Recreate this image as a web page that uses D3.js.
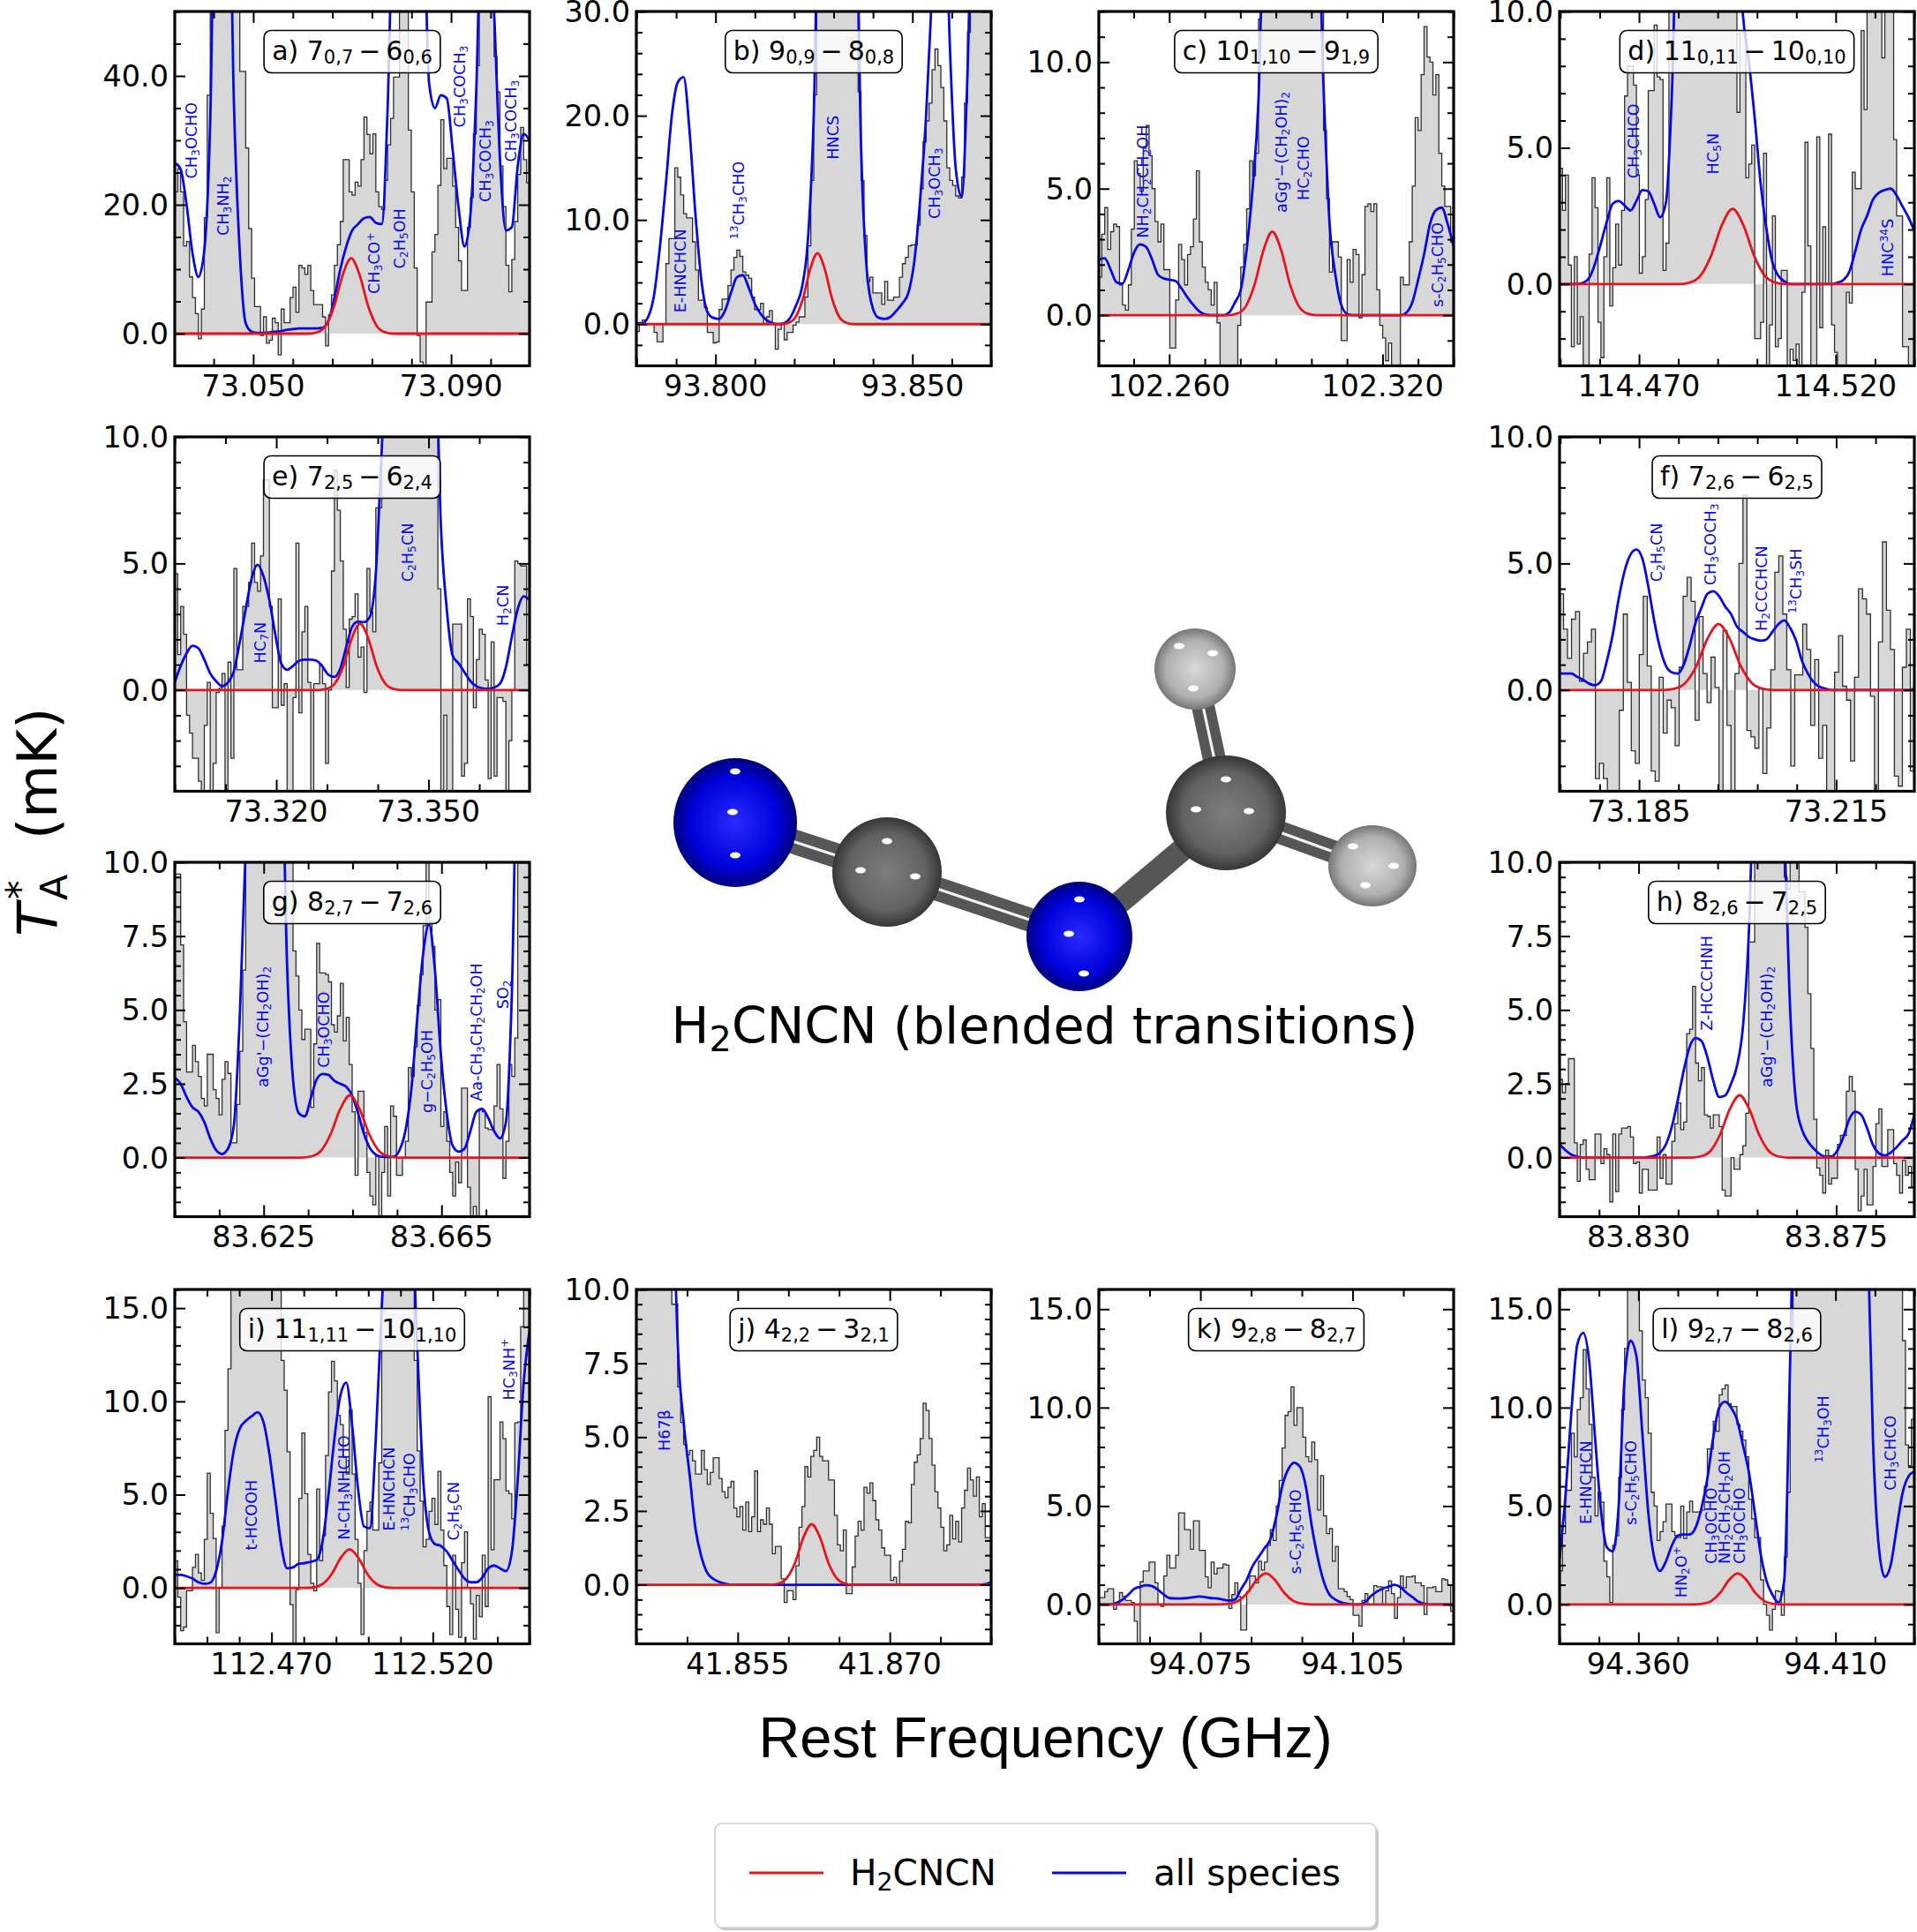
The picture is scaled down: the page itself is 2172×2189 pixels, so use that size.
<!DOCTYPE html>
<html><head><meta charset="utf-8">
<script src="https://cdn.jsdelivr.net/npm/d3@7"></script>
<style>html,body{margin:0;padding:0;background:#fff}svg{display:block}</style></head><body>
<svg id="c" width="2172" height="2189"></svg>
<script>
// ---- observed spectra (mK), one value per uniform channel across the panel ----
const obsA=[22,25.6,22,13.6,14.3,8.8,5.6,3.1,-.8,3.8,18,37,60,60,60,60,60,60,60,60,60,60,40.7,40.7,28.8,16.3,8.6,4.2,4.2,-.3,2.6,-1.5,-1,2.4,1.7,-3.3,3.8,1.7,1.7,5.6,7.2,3.3,10.6,10.2,9.2,10.6,6.7,4.5,4.5,4.5,2.6,-1.9,2.9,6,10.6,13.8,17.4,27,27,22,21.5,23.5,22.9,27,33.6,30.9,27.9,31,22,19.7,19.3,23.8,29.3,33.4,39.8,39.8,55,55,55,31.6,22,10.2,-.3,-4.4,-6,4.9,4.9,12.7,15.4,23,33.2,25.6,27.2,27.2,22.9,16.5,11.3,6.7,6.7,16.5,21.1,31,41.6,60,60,60,60,60,43,37.5,26,19.7,10.6,6.5,11.5,17.4,24.7,32,27,23.4];
const obsB=[-.7,0,.4,0,0,0,-.8,-1.7,-1.7,0,5.8,8.2,8.2,15,14.1,12.4,10.6,10.2,10.2,7.9,5.2,2.3,2.3,1.6,-.8,-.8,-1.8,-1.7,1.4,2.4,2.4,3.7,5.2,6.4,7.1,6.5,5,4.7,4.4,2.6,1.4,1.4,2,0,.7,1.3,0,-2.4,-.5,0,-1.5,-.8,-.8,-.1,.2,.7,.7,2.6,7.5,13.8,22,40,40,40,40,40,40,40,40,40,40,40,40,40,40,22.3,13.8,8.5,4.1,4.5,3,3,3,1.9,4.1,2.3,2.3,2.6,2.6,4.5,5.8,6.4,7.5,7.6,7.6,9.5,13,17.5,19.5,21.2,24.4,26.4,24.8,22.7,19.5,15,13.8,13.3,12.3,12.1,14.1,21.2,28,40,40,40,40,40,40,40];
const obsC=[1.5,3.2,4.25,2.6,3.3,3.6,3.5,1.2,.4,.2,1.2,3.4,6.1,5.6,4.9,6.6,7.5,6.3,5,3.7,2.9,3.6,1.8,1.8,-1.3,-1.3,.6,2.8,2.2,1.2,2.4,2.7,3.8,5.7,2.9,1.9,1.3,1,.4,1.3,-.3,-2.3,-2.3,-2.3,-2.3,-2.3,-2.3,-.4,1.9,2.8,4.2,6.1,5.5,6.4,11.7,15,15,15,15,15,15,15,15,15,15,15,15,15,15,15,15,15,15,15,15,15,7.3,4.6,1.7,2.9,2.9,2.3,-1,-1,2.2,1.3,2.6,2.4,-.1,1.6,4.3,4.4,4.1,4.4,1,-.4,-.9,-1.8,-1.1,-2.3,-2.3,-2.3,1.5,1.2,1.2,2.9,5.1,7.8,7.3,9.5,11.4,10.2,10,8.7,9.5,6.4,5.1,4.3,4.3,2.9];
const obsD=[4.25,2.7,4,.7,-2.3,1,-2.2,-1.2,-3.3,-3.3,1.1,3.9,2.8,-1.4,-2.7,1,3.9,-.8,.6,2.2,.7,2.7,6.9,8,8,7.3,4,.4,1,3.1,7.1,7.1,9.5,7.6,7.5,.5,1.5,12,12,16,16,16,16,16,16,16,16,16,16,16,16,16,16,16,16,16,16,16,16,16,6.3,9.3,9.3,3.9,4.4,5.1,-2,-2,-1.4,4.8,-3.3,-1.5,2.5,-2.3,-2,.5,.5,-3.3,-2.4,-2.8,-2.2,-3.3,-.3,5.2,1.4,-3.3,-3.3,5.4,-1.6,2.1,0,5.5,-1.5,-2.5,-3.3,-3.3,-3.3,-.3,-.7,4.1,3.5,3.5,9.3,6.4,12,12,12,12,12,8.3,12,12,12,5.3,2.5,2.5,-2.3,-2.3,-3.3,-3.3];
const obsE=[4.6,1.4,3.3,2.2,-1,-1.7,-2.7,-2.7,-3.6,-4.5,-1.4,.3,-4.5,-2.9,-.1,.07,.65,-4.5,1.1,-2.7,4.8,.8,.8,3.3,3.3,4.25,5.8,4.25,3.9,5.3,8.3,8.3,3.3,-.7,-.7,3.6,-.6,.25,-4.5,-4.5,-.3,5.8,-.9,2.3,3.3,.3,-4.5,.25,.25,1,.25,-2.9,0,4.7,8.7,7.1,5.1,2.4,.1,2.8,2.9,3.8,1.3,1.7,-.1,4.8,3.1,2.3,7.2,7.2,12,12,12,12,12,12,12,12,12,12,12,12,12,12,12,12,12,12,12,4,-4.5,-1,-4.5,-4.5,2.6,2.6,2.6,-3.4,-2.9,3.6,2.9,-.7,1.2,2.4,2.2,.4,-3.5,1.9,-3.4,-.3,-.3,-.45,-4.5,-2,0,5.1,5,4.9,4.9,1];
const obsF=[3.8,2.4,1.25,2.8,3.1,.35,1.45,1.9,2.4,-3.5,-2.9,-3.5,-4.5,-4.5,-4.5,-.8,3,.3,-2.4,-2.9,1.4,3.7,.95,-3.2,-3.6,.5,-1.7,-.4,-.7,-2.2,.9,3.7,4.45,3.5,-1.2,2.9,.65,-.5,1.3,.1,-4.5,2.35,-1.4,-4.5,.65,5,7.7,-1.6,-1.85,-2.3,.07,-3.3,-1.5,.8,4.65,5.3,3,.8,-3,.6,.6,2.6,1.6,-1.4,1.2,-2.7,-1.4,-4.5,-4.5,.7,2.15,.15,-.4,-2.8,.5,4,3.6,3,-.25,-4.5,1.9,5.85,3.15,1.6,-3.4,-3.8,.9,2.4,-3.2];
const obsG=[9.6,9.6,7.2,4.6,2.9,2.9,3.8,3.25,2.75,2,1.75,3.5,3.5,2.3,2,1.45,2.65,3.25,2.85,.5,.5,1.8,3.6,6.35,12,12,12,12,12,12,12,12,12,12,12,12,12,12,12,12,7,6.15,5,4,4.35,4.35,1.7,3.85,7.25,6.25,6.25,6.2,5.95,4.5,4.25,4.8,5.9,3.95,4.75,3.15,1.55,-.6,2.25,2.25,.85,-.5,-1.3,-1.6,.05,-2.2,-.5,1.05,-1.3,1.75,1.4,-.6,-.6,0,.55,3.05,2.75,3.75,5.15,6.2,7.85,12,8,7.15,5,5.35,1.05,1.55,.55,-.5,-1.3,-.15,-.85,2.35,2.35,-1,-2.2,-1.65,-2.2,1.65,1.55,1,.95,.95,1.75,3.15,1.65,-.7,.55,3.15,2.75,4.05,12,12,12,12];
const obsH=[2.65,2.2,2.5,3.35,3.35,.5,-.8,.45,.6,-.4,-.75,-.75,.8,.8,-.2,.3,.1,-1.5,.8,-1.15,.8,1,1,1.05,.7,-.2,-.15,-1.2,-.4,-.4,-1.1,-1.1,-1.1,.7,-.7,.1,-.9,-.9,.55,1.15,1.85,.95,1.2,4.2,4.35,5.8,3.2,2.6,3.05,1.45,1.4,1,1.45,1.45,1.05,-1.1,-1.3,-1.3,0,-.4,-.4,.1,.4,1.5,7.3,7.3,12,12,12,12,12,12,12,12,12,12,9.5,9.1,12,12,12,9,9,7.8,5.55,3.7,1.3,-.35,-.6,-1.2,.25,-.9,-.7,-.7,.45,.75,.75,2.25,2.75,2.25,-.4,-1.8,-1.3,-.4,-1.6,-1.6,-.3,1.15,1.65,-.3,-.3,.95,.95,-.2,-.6,-1.2,-.1,-.6,-.3,-1];
const obsI=[1.45,-.5,-2.3,-2.1,-.15,-.15,1.1,1.8,.8,.4,2.6,6.15,4,2.65,-2.4,0,3.3,8.45,11.75,20,20,20,20,20,20,20,20,20,20,20,20,20,20,20,20,20,12.2,10.6,7.3,-.9,-3.5,-.1,4.8,8.3,5.05,1.8,.25,-.15,5.3,1.45,2.8,7.1,10.5,12.15,11.1,9.25,8.75,7,6.1,9.55,6.1,2.6,.25,-2.5,2,4.1,4.6,3.1,3.1,6.7,20,20,20,20,20,20,20,20,20,20,20,12.2,7.35,4.65,2.2,2.6,4.1,4.8,3.4,6.25,3.1,1.2,-1,-2.5,1.75,-1.15,-2.65,1.35,3,0,-.85,-2.75,-.4,-1.55,1.75,-1,10.25,2.05,5.8,5.8,8.9,8,5.2,5.05,3.7,8.85,8.9,14,16,16];
const obsJ=[15,15,15,15,15,15,15,15,15,15,15,15,9.5,9.5,6.7,5.5,4.75,4.4,4.55,4.2,3.75,3.75,4.55,3.9,3.4,3.8,4.3,4.3,3.6,3.15,2.95,3.3,3.5,2.6,2.3,2.65,1.85,2.8,1.8,2.3,3.85,1.8,2.2,2.05,2.6,2.05,1.05,1.3,1.3,.2,-.6,-.2,-.2,-.5,.65,1.95,2.65,4,3.65,4.35,4.55,5,4.35,4.2,4.2,3.55,3.55,2.35,1.35,1.15,1.85,-.3,-.3,.6,1.65,2.15,1.85,3.3,3.1,3.45,2.85,2.2,1.85,1.25,1,1,.15,.25,0,.8,1.2,2.15,2.1,3.4,4.15,4.4,4.95,6.15,5.9,4.95,4.05,3.15,2.6,1.95,1.15,1.35,2.35,1.55,2.15,1.45,2.6,3.2,3.95,3.55,3,3.65,2.3,2.75,1.6,1.6];
const obsK=[.35,.35,.65,.8,.8,-.25,0,.6,.4,.2,.2,.1,-.85,-2.2,1.15,1.7,1.7,2.15,2.15,1.1,0,-.1,1.45,2.5,1.85,1.85,2.5,4.65,4.65,3.8,3.8,2.8,4.25,4.25,2.75,2.75,1.4,.85,2.15,1.55,1.85,1.85,2.05,2,-.2,.5,1.1,.4,-1.3,-1.3,.65,1.45,1.45,1.1,2.2,1.75,2.15,3,3.8,3.25,5,6.3,7.95,9.6,9.8,11.05,9.1,10,10,8.5,7.5,7.25,8.25,7.35,4.8,6.55,4.5,3.6,3.85,2.2,2.95,.8,.8,.65,.4,.25,-.55,-.55,-1.1,.2,.55,0,0,.95,.9,.9,0,.7,1.2,.55,-.7,.35,1.45,.85,1.4,1.4,1.45,1.1,1.1,.95,-.5,.85,.85,.9,.65,.65,1.3,1.25,1,-.35];
const obsL=[1.7,3.6,5.8,5.8,8.7,7.5,9.9,10.5,12.95,10.95,9.15,6.45,4.5,5.7,5.2,2.2,1.4,.1,3,3.5,6.45,9.9,13,20,20,20,16,13.9,11.4,10.5,8.7,5.7,5,3.25,3.7,4.2,5.1,5.1,3.7,3.5,3.4,5,3.35,4.7,5.25,4.7,4.7,4.7,4.8,6,7.9,7.9,9.3,8.8,10.65,10.95,11.15,10.2,10.05,10.05,9.15,8.8,8.35,7.5,5.35,4.35,3.4,3.4,1.25,0,-.55,-1.3,-.25,.7,.65,-.55,2.4,5.7,14,30,30,30,30,30,30,30,30,30,30,30,30,30,30,30,30,30,30,30,30,30,30,30,30,30,30,30,30,30,30,30,30,30,30,30,30,30,13.4,8.1,7.05,9.4];

// ---- "all species" model (mK), sampled uniformly across each panel ----
const modelA=[26.5,25.5,20,12.5,8.8,13,33,80,80,80,36,12.5,1.6,.3,.1,.1,.2,.3,.4,.6,.7,.8,.8,.8,.8,.9,2,5.5,10,13.5,16,17,17.9,18.1,17.2,17,35,70,80,80,80,80,70,39,35,37,36.5,28.5,19.5,13.5,18.5,38,70,70,50,27,16,16.5,26,31,30];
const modelB=[.1,.1,.7,2.8,7.5,13.5,20,23.2,23.7,18.5,10.5,4.2,1.2,.6,.5,1.3,3,4.5,4.7,3.5,2,1,.4,.1,0,.1,.6,1.8,3.5,8,20,45,45,45,45,45,45,45,17,5,1.5,.6,.5,.7,1.3,2,3,6,12,20,32,45,45,27,15,12.2,24,45,45,45,45];
const modelC=[2.2,2.25,1.8,1.3,1.25,1.8,2.5,2.8,2.7,2.2,1.6,1.45,1.4,1.35,1.05,.7,.4,.15,.03,0,0,0,.1,.5,1,2.6,5,8.5,16,16,16,16,16,16,16,16,16,16,9,3.7,1.6,.4,.05,0,0,0,0,0,0,0,0,0,.1,.5,1.4,2.4,3.6,4.15,4.25,3.6,2.7];
const modelD=[0,0,0,0,.05,.22,.75,1.5,2.3,2.95,3.05,2.88,2.7,3.05,3.45,3.4,2.95,2.45,3,7,14,14,14,14,14,14,14,14,14,14,14,9.9,8.2,6.1,3.7,2,.8,.3,.1,0,0,0,0,0,0,0,0,.05,.15,.45,1.2,2,2.5,3.1,3.35,3.45,3.5,3.25,2.85,2.45,1.95];
const modelE=[.3,.95,1.45,1.75,1.65,1.2,.65,.35,.15,.3,.75,1.9,3.2,4.4,4.95,4.5,3.55,2.2,1.05,.8,.95,1.15,1.2,1.2,1.15,.92,.6,.52,.85,1.7,2.5,2.7,2.68,2.9,4.6,9.5,14,14,14,14,14,14,14,14,14,6.5,3.2,1.35,1.05,.7,.35,.15,.07,.05,.1,.25,.9,2.1,3.2,3.7,3.55];
const modelF=[.65,.65,.65,.52,.4,.25,.19,.35,1.15,2.2,3.6,4.7,5.35,5.55,5.2,4.1,2.75,1.65,.95,.7,.65,1,1.75,2.65,3.25,3.8,3.9,3.7,3.3,3,2.5,2.3,2.1,2,1.95,2,2.3,2.6,2.75,2.45,1.95,1.15,.65,.3,.12,.05,0,0,0,0,0,0,0,0,0,0,0,0,0,0,.05];
const modelG=[2.7,2.5,2.05,1.7,1.55,1.2,.65,.25,.12,.3,1.1,4.8,10.5,14,14,14,14,14,14,6.5,2.65,1.5,1.4,2,2.65,2.83,2.8,2.6,2.5,2.4,2.1,1.5,.8,.32,.1,.03,.02,.03,.25,.9,2.3,4.7,6.9,7.9,6.35,3.5,1.5,.4,.2,.3,.9,1.55,1.65,1.35,.9,.65,1.2,5.5,14,14,14];
const modelH=[.45,.25,.1,.03,0,0,0,0,0,0,0,0,0,0,0,.02,.06,.16,.45,1.05,1.95,2.95,3.75,4.05,3.95,3.4,2.6,2.05,2.1,2.5,3.1,4.4,7.55,13,13,13,13,13,11,5,1.85,.95,.55,.3,.12,.03,.04,.25,.7,1.3,1.55,1.45,1,.43,.15,.07,.17,.35,.58,.8,1.45];
const modelI=[.7,.7,.62,.5,.3,.22,.28,.9,2.5,5.2,7.4,8.55,8.95,9.2,9.42,8.9,7.2,4.8,2.3,1.05,1.1,1.3,1.33,1.4,1.5,2.5,5,8,10.3,11,8.7,5.3,3.3,3.2,8,15,20,20,20,20,20,13,5.9,3,2.35,2.25,1.95,1.45,.95,.5,.3,.3,.55,1.05,1.2,1.05,.9,1.9,5.8,11,13.8];
const modelJ=[30,30,30,30,30,30,16,8.2,5.5,3.75,1.9,.95,.4,.2,.1,.04,0,0,0,0,0,0,0,0,0,0,0,0,0,0,0,0,0,0,0,0,0,0,0,0,0,0,0,0,0,0,0,0,0,0,0,0,0,0,0,0,0,0,0,.02,.08];
const modelK=[0,0,0,.08,.25,.5,.8,.9,.98,.93,.75,.5,.32,.3,.3,.33,.37,.4,.37,.32,.3,.25,.2,.25,.75,1.25,1.95,2.4,2.85,3.3,4.45,6,6.85,7.2,7,6,4,2.4,1.2,.5,.25,.1,.03,0,0,.1,.42,.65,.8,.9,1,.88,.6,.38,.15,.03,0,0,0,0,0];
const modelL=[2.3,5.5,9.8,13.2,13.8,12.4,8.5,4.8,2.9,2.7,5,11.5,13.4,12.6,8.7,4.7,2.4,1.7,2.2,3,3.5,3.55,3.55,3.9,4.9,6.4,8.5,10,10.3,10,9.4,8.1,6.75,4.7,2.6,1.2,.5,.1,1.25,12.4,25,25,25,25,25,25,25,25,25,25,25,25,20,8.4,2.9,1.4,2,3.85,5.65,6.5,6.75];

// ---- H2CNCN line profiles: value at (center + step*FWHM) ----
const redSteps=[-1.5,-1.2,-.9,-.6,-.3,0,.3,.6,.9,1.2,1.5];
const redA=[0,.22,1.24,4.31,9.11,11.7,9.11,4.31,1.24,.22,0];
const redB=[0,.13,.72,2.5,5.3,6.8,5.3,2.5,.72,.13,0];
const redC=[0,.06,.35,1.21,2.57,3.3,2.57,1.21,.35,.06,0];
const redD=[0,.05,.29,1.02,2.15,2.76,2.15,1.02,.29,.05,0];
const redE=[0,.05,.28,.96,2.04,2.62,2.04,.96,.28,.05,0];
const redF=[0,.05,.28,.96,2.03,2.6,2.03,.96,.28,.05,0];
const redG=[0,.04,.22,.78,1.64,2.11,1.64,.78,.22,.04,0];
const redH=[0,.04,.22,.78,1.64,2.11,1.64,.78,.22,.04,0];
const redI=[0,.04,.22,.76,1.61,2.07,1.61,.76,.22,.04,0];
const redJ=[0,.04,.22,.75,1.6,2.05,1.6,.75,.22,.04,0];
const redK=[0,.03,.17,.58,1.23,1.58,1.23,.58,.17,.03,0];
const redL=[0,.03,.17,.58,1.23,1.58,1.23,.58,.17,.03,0];

// ---- line identifications: [text, frequency, T at start of text] ----
const E_="E-HNCHCN", SP="s-C_{2}H_{5}CHO", AGG="aGg'\u2212(CH_{2}OH)_{2}", MF="CH_{3}OCHO", ACE="CH_{3}COCH_{3}", EC="C_{2}H_{5}CN";
const labelsA=[[MF,73.0374,24.05],["CH_{3}NH_{2}",73.0439,15.2],["CH_{3}CO^{+}",73.0745,6.15],["C_{2}H_{5}OH",73.0796,10.07],[ACE,73.0918,32],[ACE,73.097,20.4],[ACE,73.1021,26.65]];
const labelsB=[[E_,93.7911,1.1],["^{13}CH_{3}CHO",93.8058,8.14],["HNCS",93.8298,15.8],["CH_{3}OCH_{3}",93.8557,10.1]];
const labelsC=[["NH_{2}CH_{2}CH_{2}OH",102.2526,3.05],[AGG,102.2915,4.05],["HC_{2}CHO",102.2977,4.54],[SP,102.3355,.32]];
const labelsD=[["CH_{3}CHCO",114.4685,3.87],["HC_{5}N",114.4887,4.03],["HNC^{34}S",114.5333,.28]];
const labelsE=[["HC_{7}N",73.3168,1.06],[EC,73.3459,4.27],["H_{2}CN",73.3646,2.53]];
const labelsF=[[EC,73.1877,4.27],[ACE,73.1959,4.13],["H_{2}CCCHCN",73.2037,2.33],["^{13}CH_{3}SH",73.2089,3.03]];
const labelsG=[[AGG,83.6249,2.38],[MF,83.6386,3.04],["g\u2212C_{2}H_{5}OH",83.6617,1.51],["Aa-CH_{3}CH_{2}CH_{2}OH",83.6728,1.91],["SO_{2}",83.6788,5.03]];
const labelsH=[["Z-HCCCHNH",83.8456,4.3],[AGG,83.8591,2.38]];
const labelsI=[["t-HCOOH",112.4637,2.02],["N-CH_{3}NHCHO",112.4924,2.57],[E_,112.5065,3.06],["^{13}CH_{3}CHO",112.5127,3.06],[EC,112.5264,2.54],["HC_{3}NH^{+}",112.5436,10.06]];
const labelsJ=[["H67\u03B2",41.8478,4.53]];
const labelsK=[[SP,94.0937,1.54]];
const labelsL=[[E_,94.3466,4.07],[SP,94.3582,4.03],["HN_{2}O^{+}",94.3708,.34],[MF,94.3785,2.06],["NH_{2}CH_{2}CH_{2}OH",94.3819,2.06],[MF,94.3856,2.06],["^{13}CH_{3}OH",94.4069,7.2],["CH_{3}CHCO",94.424,5.79]];

// ---- transition names ----
const transitions=["a) 7_{0,7}\u2009\u2212\u20096_{0,6}","b) 9_{0,9}\u2009\u2212\u20098_{0,8}","c) 10_{1,10}\u2009\u2212\u20099_{1,9}","d) 11_{0,11}\u2009\u2212\u200910_{0,10}","e) 7_{2,5}\u2009\u2212\u20096_{2,4}","f) 7_{2,6}\u2009\u2212\u20096_{2,5}","g) 8_{2,7}\u2009\u2212\u20097_{2,6}","h) 8_{2,6}\u2009\u2212\u20097_{2,5}","i) 11_{1,11}\u2009\u2212\u200910_{1,10}","j) 4_{2,2}\u2009\u2212\u20093_{2,1}","k) 9_{2,8}\u2009\u2212\u20098_{2,7}","l) 9_{2,7}\u2009\u2212\u20098_{2,6}"];

// ---- axes: xDomain, xTicks, xMinorStep, yDomain, yTicks, yMinorStep, red centre, red FWHM ----
const xDomains=[[73.03413,73.10587],[93.7799,93.87],[102.2402,102.34],[114.4498,114.54],[73.3,73.3699],[73.1729,73.2269],[83.605,83.6848],[83.812,83.8928],[112.44,112.55],[41.845,41.88],[94.055,94.1249],[94.34,94.43]];
const xTicks=[[73.05,73.09],[93.8,93.85],[102.26,102.32],[114.47,114.52],[73.32,73.35],[73.185,73.215],[83.625,83.665],[83.83,83.875],[112.47,112.52],[41.855,41.87],[94.075,94.105],[94.36,94.41]];
const xMinor=[.008,.01,.01,.01,.01,.006,.01,.009,.01,.005,.01,.01];
const yDomains=[[-5,50],[-4,30],[-2,12],[-3,10],[-4,10],[-4,10],[-2,10],[-2,10],[-3,16],[-2,10],[-2,16],[-2,16]];
const yTicks=[[0,20,40],[0,10,20,30],[0,5,10],[0,5,10],[0,5,10],[0,5,10],[0,2.5,5,7.5,10],[0,2.5,5,7.5,10],[0,5,10,15],[0,2.5,5,7.5,10],[0,5,10,15],[0,5,10,15]];
const yMinor=[5,2,1,1,1,1,.5,.5,1,.5,1,1];
const redCenters=[73.0698,93.8259,102.289,114.4938,73.3365,73.1971,83.6444,83.853,112.4942,41.8623,94.0879,94.3852];
const redFwhm=[.0057,.0061,.0083,.0092,.0054,.0056,.0073,.0074,.0091,.00273,.0061,.0075];
const xAxisTitle="Rest Frequency (GHz)", moleculeTitle="H_{2}CNCN (blended transitions)";
const legendNames=["H_{2}CNCN","all species"];

const obsAll=[obsA,obsB,obsC,obsD,obsE,obsF,obsG,obsH,obsI,obsJ,obsK,obsL];
const modelAll=[modelA,modelB,modelC,modelD,modelE,modelF,modelG,modelH,modelI,modelJ,modelK,modelL];
const redAll=[redA,redB,redC,redD,redE,redF,redG,redH,redI,redJ,redK,redL];
const labelAll=[labelsA,labelsB,labelsC,labelsD,labelsE,labelsF,labelsG,labelsH,labelsI,labelsJ,labelsK,labelsL];

// ---- layout ----
const cols=[198,721,1245,1767], rows=[13,495,977,1461], pw=402, ph=401.5;
const cells=[[0,0],[1,0],[2,0],[3,0],[0,1],[3,1],[0,2],[3,2],[0,3],[1,3],[2,3],[3,3]];
const DJ="'DejaVu Sans'", BLUE="#0808e6", RED="#e8141c";
const svg=d3.select("#c");
const defs=svg.append("defs");

function rich(t,str,subDy=.17,supDy=.38){
  const re=/([_^])\{([^}]*)\}|([^_^]+)/g; let m,cur=0; const fs=parseFloat(t.attr("font-size"));
  while((m=re.exec(str))){
    const s=t.append("tspan");
    let target=0;
    if(m[1]){target=m[1]==="_"?subDy*fs:-supDy*fs;s.attr("font-size",fs*.7).text(m[2]);}
    else s.text(m[3]);
    s.attr("dy",target-cur); cur=target;
  }
}
function minors(anchor,step,dom){
  const out=[];
  for(let v=anchor;v>=dom[0]-1e-9;v-=step)out.push(v);
  for(let v=anchor+step;v<=dom[1]+1e-9;v+=step)out.push(v);
  return out;
}

d3.range(12).forEach(i=>{
  const [cx,ry]=cells[i], L=cols[cx], T=rows[ry];
  const g=svg.append("g").attr("transform",`translate(${L},${T})`);
  const x=d3.scaleLinear().domain(xDomains[i]).range([0,pw]);
  const y=d3.scaleLinear().domain(yDomains[i]).range([ph,0]);
  const clipId="clip"+i;
  defs.append("clipPath").attr("id",clipId).append("rect").attr("width",pw).attr("height",ph);
  const plot=g.append("g").attr("clip-path",`url(#${clipId})`);
  const [x0,x1]=xDomains[i];
  const obs=obsAll[i], bw=(x1-x0)/obs.length;
  const steps=obs.map((v,k)=>[x0+k*bw,v]); steps.push([x1,obs[obs.length-1]]);
  plot.append("path").attr("d",d3.area().curve(d3.curveStepAfter).x(d=>x(d[0])).y0(y(0)).y1(d=>y(d[1]))(steps)).attr("fill","#d7d7d7");
  plot.append("path").attr("d",d3.line().curve(d3.curveStepAfter).x(d=>x(d[0])).y(d=>y(d[1]))(steps)).attr("fill","none").attr("stroke","#2e2e2e").attr("stroke-width",1.3);
  const mod=modelAll[i], mw=(x1-x0)/(mod.length-1);
  const ln=d3.line().curve(d3.curveMonotoneX).x(d=>x(d[0])).y(d=>y(d[1]));
  plot.append("path").attr("d",ln(mod.map((v,k)=>[x0+k*mw,v]))).attr("fill","none").attr("stroke",BLUE).attr("stroke-width",2.8);
  const rp=[[x0,0],...redSteps.map((s,k)=>[redCenters[i]+s*redFwhm[i],redAll[i][k]]),[x1,0]];
  plot.append("path").attr("d",ln(rp)).attr("fill","none").attr("stroke",RED).attr("stroke-width",2.8);

  // ticks
  const noLab=()=>"";
  const mk=(axis,vals,len,fmt)=>axis.tickValues(vals).tickSize(len).tickFormat(fmt);
  const xm=minors(xTicks[i][0],xMinor[i],xDomains[i]).filter(v=>!xTicks[i].some(t=>Math.abs(t-v)<1e-6));
  const ym=minors(yTicks[i][0],yMinor[i],yDomains[i]).filter(v=>!yTicks[i].some(t=>Math.abs(t-v)<1e-6));
  const ax=[
    [d3.axisBottom(x),xm,-8,noLab,`translate(0,${ph})`],[d3.axisTop(x),xm,-8,noLab,""],
    [d3.axisBottom(x),xTicks[i],-13,noLab,`translate(0,${ph})`],[d3.axisTop(x),xTicks[i],-13,noLab,""],
    [d3.axisLeft(y),ym,-7,noLab,""],[d3.axisRight(y),ym,-7,noLab,`translate(${pw},0)`],
    [d3.axisLeft(y),yTicks[i],-12,noLab,""],[d3.axisRight(y),yTicks[i],-12,noLab,`translate(${pw},0)`]
  ];
  ax.forEach(a=>{
    const s=g.append("g").attr("transform",a[4]).call(mk(a[0],a[1],a[2],a[3]));
    s.select(".domain").remove();
    s.selectAll("line").attr("stroke","#000").attr("stroke-width",2);
    s.selectAll("text").remove();
  });
  g.selectAll(".xl").data(xTicks[i]).join("text").attr("x",d=>x(d)).attr("y",ph+34).attr("text-anchor","middle")
    .attr("font-family",DJ).attr("font-size",33.5).attr("fill","#000").text(d=>d.toFixed(3));
  g.selectAll(".yl").data(yTicks[i]).join("text").attr("x",-7).attr("y",d=>y(d)+12).attr("text-anchor","end")
    .attr("font-family",DJ).attr("font-size",33.5).attr("fill","#000").text(d=>d.toFixed(1));
  g.append("rect").attr("width",pw).attr("height",ph).attr("fill","none").attr("stroke","#000").attr("stroke-width",3.2);

  // identifications
  labelAll[i].forEach(l=>{
    const t=g.append("text").attr("transform",`translate(${x(l[1])+6.2},${y(l[2])}) rotate(-90)`)
      .attr("font-family",DJ).attr("font-size",17.6).attr("fill",BLUE);
    rich(t,l[0]);
  });

  // transition box
  const bg=g.append("g");
  const rect=bg.append("rect");
  const t=bg.append("text").attr("font-family",DJ).attr("font-size",30).attr("fill","#000").attr("text-anchor","start");
  rich(t,transitions[i],.16);
  const tw=t.node().getComputedTextLength();
  const bwid=tw+18, bh=48, bx=(pw-bwid)/2, by=21.5;
  t.attr("x",bx+9).attr("y",by+33);
  rect.attr("x",bx).attr("y",by).attr("width",bwid).attr("height",bh).attr("rx",8)
    .attr("fill","#fff").attr("fill-opacity",.8).attr("stroke","#000").attr("stroke-width",1.6);
});

// ---- molecule ----
const gradients=[["gN","#2a2aff","#0000dc","#000070"],["gC","#7e7e7e","#626262","#303030"],["gH","#d8d8d8","#b0b0b0","#6e6e6e"]];
gradients.forEach(g=>{
  const r=defs.append("radialGradient").attr("id",g[0]).attr("cx","50%").attr("cy","50%").attr("r","52%");
  r.append("stop").attr("offset","0%").attr("stop-color",g[1]);
  r.append("stop").attr("offset","68%").attr("stop-color",g[2]);
  r.append("stop").attr("offset","100%").attr("stop-color",g[3]);
});
const mol=svg.append("g");
const bonds=[[833,932,1005,988,28,1],[1005,988,1223,1061,27,1],[1223,1061,1389,921,26,0],[1389,921,1354,758,26,1],[1389,921,1555,981,26,1]];
bonds.forEach(b=>{
  mol.append("line").attr("x1",b[0]).attr("y1",b[1]).attr("x2",b[2]).attr("y2",b[3]).attr("stroke","#565656").attr("stroke-width",b[4]);
  if(b[5]) mol.append("line").attr("x1",b[0]).attr("y1",b[1]).attr("x2",b[2]).attr("y2",b[3]).attr("stroke","#f2f2f2").attr("stroke-width",3.2);
});
const atoms=[[833,932,70,73,"gN",[[0,-58],[-3,-12],[0,37]]],[1005,988,62,62,"gC",[[0,-35],[-30,-2],[32,5]]],[1223,1061,60,62,"gN",[[0,-42],[-12,-3],[5,42]]],[1389,921,68,65,"gC",[[0,-38],[-34,-4],[26,-2]]],[1354,758,46,46,"gH",[[-18,-26],[20,-18],[-2,22]]],[1555,981,50,46,"gH",[[-22,-22],[-8,22],[24,0]]]];
atoms.forEach(a=>{
  mol.append("ellipse").attr("cx",a[0]).attr("cy",a[1]).attr("rx",a[2]).attr("ry",a[3]).attr("fill",`url(#${a[4]})`);
  a[5].forEach(h=>mol.append("ellipse").attr("cx",a[0]+h[0]).attr("cy",a[1]+h[1]).attr("rx",6).attr("ry",3.5).attr("fill","#fff"));
});
const mt=svg.append("text").attr("x",1183.5).attr("y",1182).attr("text-anchor","middle").attr("font-family",DJ).attr("font-size",57).attr("fill","#000");
rich(mt,moleculeTitle,.16);

// ---- axis titles ----
svg.append("text").attr("x",1184.5).attr("y",1991).attr("text-anchor","middle").attr("font-family","'Liberation Sans'").attr("font-size",65).attr("fill","#000").text(xAxisTitle);
const yt=svg.append("g").attr("transform","translate(64,1061) rotate(-90)").attr("font-family",DJ).attr("fill","#000");
yt.append("text").attr("x",0).attr("y",0).attr("font-size",62).attr("font-style","italic").text("T");
yt.append("text").attr("x",42).attr("y",-27).attr("font-size",43).text("*");
yt.append("text").attr("x",41).attr("y",12).attr("font-size",43).text("A");
yt.append("text").attr("x",110).attr("y",0).attr("font-size",62).text("(mK)");

// ---- legend ----
const lg=svg.append("g");
lg.append("rect").attr("x",813).attr("y",2069).attr("width",749).attr("height",118).attr("rx",8).attr("fill","#9a9a9a").attr("fill-opacity",.55);
lg.append("rect").attr("x",810).attr("y",2066).attr("width",749).attr("height",118).attr("rx",8).attr("fill","#fff").attr("stroke","#cfcfcf").attr("stroke-width",1.6);
[[849,933,RED,963],[1192,1276,BLUE,1307]].forEach((e,k)=>{
  lg.append("line").attr("x1",e[0]).attr("x2",e[1]).attr("y1",2122).attr("y2",2122).attr("stroke",e[2]).attr("stroke-width",2.8);
  const t=lg.append("text").attr("x",e[3]).attr("y",2136).attr("font-family",DJ).attr("font-size",40.6).attr("fill","#000");
  rich(t,legendNames[k],.16);
});
</script>
</body></html>
